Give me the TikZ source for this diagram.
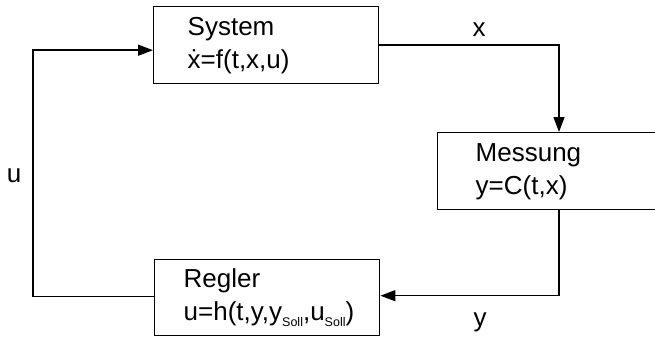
\documentclass[tikz,border=0pt]{standalone}
\usepackage{fontspec}
\setmainfont{Liberation Sans}
\usetikzlibrary{arrows.meta}
\newcommand\subsoll[1]{\raisebox{-0.45ex}{\fontsize{12.5}{12.5}\selectfont #1}}
\newcommand\boxtext[2]{\hspace*{#1}\begin{tabular}{@{}l@{}}#2\end{tabular}}
\begin{document}
\begin{tikzpicture}[x=1pt,y=-1pt,
  blk/.style={draw,line width=1.4pt,minimum height=77pt,anchor=north west,
    font=\fontsize{26}{33}\selectfont,inner sep=0pt,text width=225pt,align=left},
  lbl/.style={font=\fontsize{26}{30}\selectfont,inner sep=0pt},
  conn/.style={line width=1.4pt},
  arr/.style={conn,-{Triangle[length=15pt,width=11pt]}}]
\useasboundingbox (0,0) rectangle (655,337);
\fill[white] (0,0) rectangle (655,337);
\node[blk] (sys) at (153,6) {\boxtext{34pt}{System\\\.{x}=f(t,x,u)}};
\node[blk,text width=223pt] (mes) at (437,132) {\boxtext{38pt}{Messung\\y=C(t,x)}};
\node[blk,minimum height=76pt] (reg) at (154,259) {\boxtext{29pt}{Regler\\u=h(t,y,y\subsoll{Soll},u\subsoll{Soll})}};
\coordinate (vx) at (559,170);
\coordinate (ul) at (33,170);
\draw[arr] (sys.east) -| (vx |- mes.north);
\draw[arr] (vx |- mes.south) |- ([yshift=2pt]reg.east);
\draw[arr] ([yshift=1pt]reg.west) -| (ul) |- ([yshift=-5pt]sys.west);
\node[lbl] (lx) at (479,30) {x};
\node[lbl] (ly) at (480,322) {y};
\node[lbl] (lu) at (14,176) {u};
\end{tikzpicture}
\end{document}
